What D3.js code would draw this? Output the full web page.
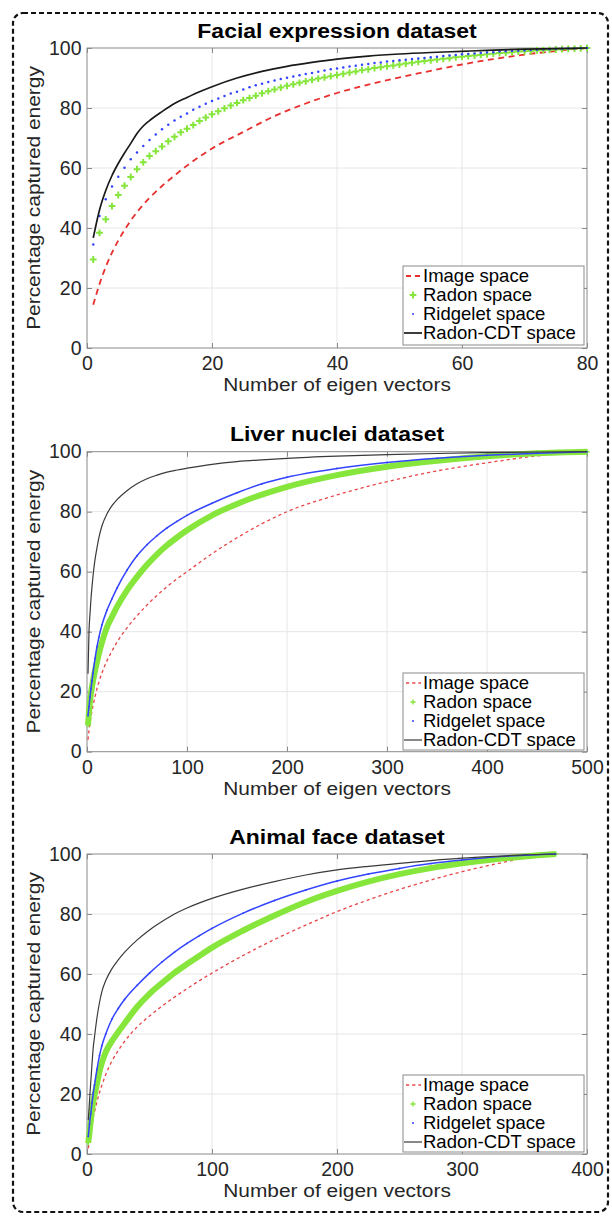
<!DOCTYPE html>
<html>
<head>
<meta charset="utf-8">
<script src="https://cdn.jsdelivr.net/npm/d3@7"></script>
<style>
body { margin: 0; background: #fff; }
svg text { font-family: "Liberation Sans", Arial, Helvetica, sans-serif; }
</style>
</head>
<body>
<svg id="chart" width="612" height="1216"></svg>
<script>
// ---------------------------------------------- data
const seriesNames = ["Image space", "Radon space", "Ridgelet space", "Radon-CDT space"];
const yTicks = [0, 20, 40, 60, 80, 100];

// Facial expression dataset (eigen vectors 1..80)
const facialXTicks = [0, 20, 40, 60, 80];
const facialMarkerX = d3.range(1, 81);
const facialRadon = [
    29.5, 38.4, 42.9, 47.3, 51.0, 54.1, 57.0, 59.6, 61.9, 64.0,
    65.6, 67.2, 68.9, 70.4, 71.9, 73.1, 74.3, 75.7, 76.8, 77.9,
    78.9, 79.9, 80.8, 81.7, 82.6, 83.3, 84.1, 84.9, 85.6, 86.2,
    86.8, 87.4, 87.9, 88.4, 88.9, 89.4, 89.8, 90.2, 90.6, 91.0,
    91.4, 91.8, 92.2, 92.6, 92.9, 93.3, 93.6, 93.9, 94.2, 94.5,
    94.8, 95.1, 95.4, 95.7, 95.9, 96.2, 96.4, 96.6, 96.9, 97.1,
    97.3, 97.5, 97.7, 97.9, 98.1, 98.3, 98.4, 98.6, 98.8, 98.9,
    99.0, 99.2, 99.3, 99.4, 99.5, 99.6, 99.7, 99.8, 99.9, 100];
const facialRidgelet = [
    34.5, 44.0, 49.6, 53.8, 57.1, 60.1, 62.9, 65.2, 67.3, 69.3,
    71.2, 72.9, 74.4, 75.8, 77.1, 78.2, 79.4, 80.4, 81.4, 82.3,
    83.2, 84.0, 84.8, 85.4, 86.2, 86.9, 87.6, 88.1, 88.7, 89.2,
    89.7, 90.1, 90.5, 90.9, 91.3, 91.7, 92.1, 92.5, 92.9, 93.2,
    93.5, 93.8, 94.1, 94.4, 94.7, 95.0, 95.2, 95.5, 95.7, 95.9,
    96.1, 96.3, 96.5, 96.7, 96.9, 97.1, 97.3, 97.5, 97.7, 97.9,
    98.0, 98.2, 98.3, 98.5, 98.6, 98.8, 98.9, 99.0, 99.1, 99.2,
    99.3, 99.4, 99.5, 99.6, 99.7, 99.75, 99.8, 99.85, 99.9, 100];
const facialImageX = [1, 2, 3, 4, 5, 6, 7, 8, 9, 10, 12, 14, 16, 18, 20, 25, 30, 35, 40, 45, 50, 55, 60, 65, 70, 75, 80];
const facialImage = [14.4, 21.3, 27.0, 31.8, 35.8, 39.3, 42.5, 45.3, 47.8, 50.0, 54.0, 57.5, 60.8, 63.8, 66.5, 72.0, 77.3, 81.5, 85.0, 87.8, 90.2, 92.4, 94.5, 96.3, 97.8, 99.0, 100];
const facialCdtX = [1, 2, 3, 4, 5, 6, 7, 8, 9, 10, 12, 14, 16, 18, 20, 24, 28, 32, 36, 40, 45, 50, 55, 60, 65, 70, 75, 80];
const facialCdt = [36.7, 46.0, 52.5, 57.5, 61.5, 65.0, 68.2, 71.5, 74.0, 75.8, 78.8, 81.5, 83.5, 85.4, 87.1, 90.0, 92.2, 93.9, 95.2, 96.3, 97.3, 98.0, 98.5, 98.9, 99.3, 99.6, 99.8, 100];

// Liver nuclei dataset (eigen vectors 1..500)
const liverXTicks = [0, 100, 200, 300, 400, 500];
const liverX = [1, 2, 3, 4, 5, 6, 8, 10, 12, 15, 20, 25, 30, 40, 50, 60, 70, 80, 90, 100, 125, 150, 175, 200, 250, 300, 350, 400, 450, 500];
const liverImage = [4.0, 7.0, 9.5, 11.7, 13.6, 15.3, 18.3, 21.0, 23.3, 26.3, 30.3, 33.6, 36.5, 41.3, 45.3, 48.9, 52.1, 55.0, 57.6, 60.0, 66.0, 71.3, 76.0, 80.0, 85.6, 90.0, 93.6, 96.3, 98.6, 100];
const liverRadon = [8.9, 13.3, 17.0, 19.5, 21.7, 23.6, 27.0, 30.0, 32.8, 36.5, 41.5, 45.0, 48.3, 53.8, 58.3, 62.3, 65.8, 68.8, 71.4, 73.8, 78.8, 82.6, 85.7, 88.3, 92.2, 95.0, 97.0, 98.5, 99.5, 100];
const liverRidgelet = [12.0, 15.0, 18.3, 21.0, 23.6, 26.2, 31.0, 35.0, 38.3, 42.3, 47.2, 51.0, 54.5, 60.5, 65.3, 69.0, 72.0, 74.6, 76.8, 78.8, 82.8, 86.3, 89.3, 91.5, 94.4, 96.4, 97.8, 98.8, 99.5, 100];
const liverCdt = [26.0, 40.0, 46.0, 51.0, 55.0, 58.5, 64.0, 68.0, 71.5, 75.3, 79.3, 82.0, 84.0, 87.0, 89.3, 91.0, 92.2, 93.2, 93.9, 94.5, 95.8, 96.7, 97.3, 97.8, 98.5, 99.0, 99.4, 99.7, 99.9, 100];

// Animal face dataset (eigen vectors 1..375)
const animalXTicks = [0, 100, 200, 300, 400];
const animalX = [1, 2, 3, 4, 5, 6, 8, 10, 12, 15, 20, 25, 30, 40, 50, 60, 70, 80, 90, 100, 125, 150, 175, 200, 225, 250, 275, 300, 325, 350, 375];
const animalImage = [1.9, 4.5, 7.0, 9.8, 12.2, 14.0, 17.5, 20.5, 23.0, 26.5, 31.0, 34.5, 37.5, 42.3, 46.0, 49.3, 52.3, 55.1, 57.8, 60.3, 66.2, 71.5, 76.3, 80.8, 84.7, 88.2, 91.3, 94.1, 96.5, 98.6, 100];
const animalRadon = [3.8, 7.2, 11.0, 14.8, 17.5, 19.5, 23.5, 27.5, 30.5, 34.0, 37.7, 40.7, 43.5, 49.0, 53.4, 57.0, 60.4, 63.3, 66.1, 68.8, 74.5, 79.5, 84.0, 87.7, 90.8, 93.3, 95.3, 96.9, 98.2, 99.2, 100];
const animalRidgelet = [5.8, 10.0, 13.5, 17.0, 20.2, 23.0, 28.3, 32.8, 36.2, 40.0, 45.0, 48.5, 51.5, 56.2, 60.3, 64.0, 67.3, 70.2, 72.8, 75.2, 80.3, 84.5, 88.0, 91.0, 93.3, 95.2, 96.8, 98.0, 99.0, 99.6, 100];
const animalCdt = [11.3, 17.5, 24.0, 30.0, 35.5, 39.0, 45.5, 50.5, 54.3, 57.8, 61.8, 64.7, 67.2, 71.3, 74.7, 77.5, 80.0, 82.0, 83.7, 85.2, 88.3, 90.8, 93.0, 94.7, 95.9, 96.9, 97.8, 98.6, 99.2, 99.7, 100];

// ---------------------------------------------- layout
let svg = d3.select("#chart");
const plotLeft = 87, plotRight = 587, plotH = 300;
const green = "#86e63c", blue = "#3344ff";

svg.append("rect")
    .attr("x", 13).attr("y", 13)
    .attr("width", 595).attr("height", 1199)
    .attr("rx", 10)
    .attr("fill", "none")
    .attr("stroke", "#111")
    .attr("stroke-width", 2.2)
    .attr("stroke-dasharray", "5,3");

let panels = [
    {
        title: "Facial expression dataset", top: 48, xMax: 80, xTicks: facialXTicks, dense: false,
        image: {x: facialImageX, y: facialImage},
        radon: {x: facialMarkerX, y: facialRadon},
        ridgelet: {x: facialMarkerX, y: facialRidgelet},
        cdt: {x: facialCdtX, y: facialCdt},
        legendTop: 266
    },
    {
        title: "Liver nuclei dataset", top: 451.7, xMax: 500, xTicks: liverXTicks, dense: true,
        image: {x: liverX, y: liverImage},
        radon: {x: liverX, y: liverRadon},
        ridgelet: {x: liverX, y: liverRidgelet},
        cdt: {x: liverX, y: liverCdt},
        legendTop: 673
    },
    {
        title: "Animal face dataset", top: 854, xMax: 400, xTicks: animalXTicks, dense: true,
        image: {x: animalX, y: animalImage},
        radon: {x: animalX, y: animalRadon},
        ridgelet: {x: animalX, y: animalRidgelet},
        cdt: {x: animalX, y: animalCdt},
        legendTop: 1075
    }
];

panels.forEach(drawPanel);

function pts(s) {
    return s.x.map((d, i) => [d, s.y[i]]);
}

function drawPanel(p) {
    let bottom = p.top + plotH;
    let x = d3.scaleLinear().domain([0, p.xMax]).range([plotLeft, plotRight]);
    let y = d3.scaleLinear().domain([0, 100]).range([bottom, p.top]);
    let g = svg.append("g");

    // grid
    g.append("g").selectAll("line")
        .data(p.xTicks.slice(1, -1))
        .join("line")
        .attr("x1", d => x(d)).attr("x2", d => x(d))
        .attr("y1", p.top).attr("y2", bottom)
        .attr("stroke", "#e6e6e6");
    g.append("g").selectAll("line")
        .data(yTicks.slice(1, -1))
        .join("line")
        .attr("x1", plotLeft).attr("x2", plotRight)
        .attr("y1", d => y(d)).attr("y2", d => y(d))
        .attr("stroke", "#e6e6e6");

    // axes, ticks pointing inward on all four sides
    let ax = g.append("g")
        .attr("transform", `translate(0,${bottom})`)
        .call(d3.axisBottom(x).tickValues(p.xTicks).tickSize(-5).tickPadding(8));
    let ay = g.append("g")
        .attr("transform", `translate(${plotLeft},0)`)
        .call(d3.axisLeft(y).tickValues(yTicks).tickSize(-5).tickPadding(5.5));
    let at = g.append("g")
        .attr("transform", `translate(0,${p.top})`)
        .call(d3.axisTop(x).tickValues(p.xTicks).tickSize(-5).tickFormat(""));
    let ar = g.append("g")
        .attr("transform", `translate(${plotRight},0)`)
        .call(d3.axisRight(y).tickValues(yTicks).tickSize(-5).tickFormat(""));
    [ax, ay, at, ar].forEach(a => {
        a.select(".domain").remove();
        a.selectAll(".tick line").attr("stroke", "#8a8a8a");
        a.selectAll("text")
            .attr("font-size", 19.5)
            .attr("font-family", "'Liberation Sans', Arial, sans-serif")
            .attr("fill", "#262626");
    });
    g.append("rect")
        .attr("x", plotLeft).attr("y", p.top)
        .attr("width", plotRight - plotLeft).attr("height", plotH)
        .attr("fill", "none")
        .attr("stroke", "#8a8a8a");

    // ------------------ series
    let line = d3.line().x(d => x(d[0])).y(d => y(d[1])).curve(d3.curveMonotoneX);
    let redColor = p.dense ? "#e94548" : "#e8302e";
    let blackColor = p.dense ? "#3a3a3a" : "#1a1a1a";

    // Image space, red dashes
    g.append("path")
        .attr("d", line(pts(p.image)))
        .attr("fill", "none")
        .attr("stroke", redColor)
        .attr("stroke-width", p.dense ? 1.3 : 1.8)
        .attr("stroke-dasharray", p.dense ? "3.2,3" : "6,4.5");

    // Radon space, green plus markers (a dense band in the big sets)
    let plusSize = p.dense ? 2.6 : 3.4;
    if (p.dense) {
        g.append("path")
            .attr("d", line(pts(p.radon)))
            .attr("fill", "none")
            .attr("stroke", green)
            .attr("stroke-width", 6);
    }
    g.append("g").selectAll("path")
        .data(pts(p.radon))
        .join("path")
        .attr("transform", d => `translate(${x(d[0])},${y(d[1])})`)
        .attr("d", `M${-plusSize},0H${plusSize}M0,${-plusSize}V${plusSize}`)
        .attr("stroke", green)
        .attr("stroke-width", p.dense ? 1.4 : 2);

    // Ridgelet space, blue dots
    if (p.dense) {
        g.append("path")
            .attr("d", line(pts(p.ridgelet)))
            .attr("fill", "none")
            .attr("stroke", blue)
            .attr("stroke-width", 1.5);
    }
    g.append("g").selectAll("circle")
        .data(pts(p.ridgelet))
        .join("circle")
        .attr("cx", d => x(d[0]))
        .attr("cy", d => y(d[1]))
        .attr("r", p.dense ? 0.9 : 1.25)
        .attr("fill", blue);

    // Radon-CDT space, black line
    g.append("path")
        .attr("d", line(pts(p.cdt)))
        .attr("fill", "none")
        .attr("stroke", blackColor)
        .attr("stroke-width", p.dense ? 1.2 : 1.7);

    // ------------------ labels
    g.append("text")
        .attr("transform", `translate(${(plotLeft + plotRight) / 2},${p.top - 10.5}) scale(1.12,1)`)
        .attr("text-anchor", "middle")
        .attr("font-size", 20.5)
        .attr("font-weight", "bold")
        .attr("fill", "#000")
        .text(p.title);
    g.append("text")
        .attr("transform", `translate(${(plotLeft + plotRight) / 2},${bottom + 43}) scale(1.1,1)`)
        .attr("text-anchor", "middle")
        .attr("font-size", 19)
        .attr("fill", "#262626")
        .text("Number of eigen vectors");
    g.append("text")
        .attr("transform", `translate(40,${p.top + plotH / 2}) rotate(-90) scale(1.1,1)`)
        .attr("text-anchor", "middle")
        .attr("font-size", 19)
        .attr("fill", "#262626")
        .text("Percentage captured energy");

    // ------------------ legend
    let lx = plotRight - 3 - 181, ly = p.legendTop;
    let leg = g.append("g");
    leg.append("rect")
        .attr("x", lx).attr("y", ly)
        .attr("width", 181).attr("height", p.dense ? 77 : 79)
        .attr("fill", "#fff")
        .attr("stroke", "#8a8a8a");
    seriesNames.forEach((name, i) => {
        let cy = ly + 10 + i * 19;
        let mx = lx + 10;
        if (i == 0) {
            leg.append("line")
                .attr("x1", mx - 7).attr("x2", mx + 8)
                .attr("y1", cy).attr("y2", cy)
                .attr("stroke", redColor)
                .attr("stroke-width", p.dense ? 1.3 : 1.8)
                .attr("stroke-dasharray", p.dense ? "3.2,3" : "5,4");
        } else if (i == 1) {
            leg.append("path")
                .attr("transform", `translate(${mx},${cy})`)
                .attr("d", `M${-plusSize},0H${plusSize}M0,${-plusSize}V${plusSize}`)
                .attr("stroke", green)
                .attr("stroke-width", p.dense ? 1.4 : 2);
        } else if (i == 2) {
            leg.append("circle")
                .attr("cx", mx).attr("cy", cy)
                .attr("r", 1).attr("fill", blue);
        } else {
            leg.append("line")
                .attr("x1", mx - 9).attr("x2", mx + 9)
                .attr("y1", cy).attr("y2", cy)
                .attr("stroke", blackColor)
                .attr("stroke-width", p.dense ? 1.2 : 1.7);
        }
        leg.append("text")
            .attr("x", lx + 20)
            .attr("y", cy)
            .attr("dy", "0.35em")
            .attr("font-size", 18.5)
            .attr("fill", "#000")
            .text(name);
    });
}
</script>
</body>
</html>
